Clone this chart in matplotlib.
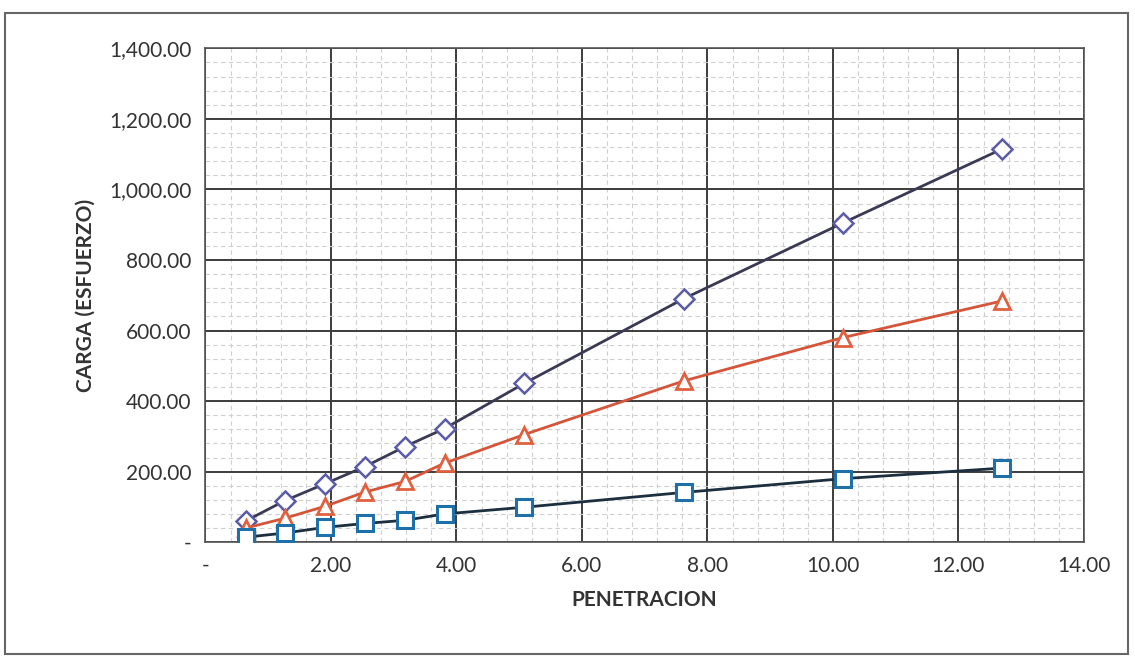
import matplotlib
matplotlib.use("Agg")
import matplotlib.pyplot as plt
from matplotlib.ticker import FuncFormatter, MultipleLocator
from matplotlib.patches import Rectangle

# penetracion (mm) and carga readings for the three specimens
penetracion = [0.64, 1.27, 1.91, 2.54, 3.18, 3.81, 5.08, 7.62, 10.16, 12.70]
carga_rombo = [60, 118, 166, 214, 271, 322, 450, 690, 905, 1115]
carga_triangulo = [40, 68, 102, 142, 172, 224, 305, 457, 580, 684]
carga_cuadrado = [14, 26, 42, 53, 62, 80, 99, 141, 180, 210]

plt.rcParams["font.family"] = ["Lato", "DejaVu Sans"]


def fmt_num(v, pos=None):
    if abs(v) < 1e-9:
        return "-"
    return f"{v:,.2f}"


fig = plt.figure(figsize=(11.35, 6.71), dpi=100)
ax = fig.add_axes([0.181, 0.192, 0.774, 0.736])

ax.plot(penetracion, carga_rombo, color="#3a3a55", lw=2.0, marker="D",
        markersize=10, markerfacecolor="white", markeredgecolor="#5b5ba8",
        markeredgewidth=1.8, zorder=3)
ax.plot(penetracion, carga_triangulo, color="#d4553a", lw=2.0, marker="^",
        markersize=12, markerfacecolor="white", markeredgecolor="#e0603f",
        markeredgewidth=2.0, zorder=3)
ax.plot(penetracion, carga_cuadrado, color="#1d2f3e", lw=2.0, marker="s",
        markersize=12, markerfacecolor="white", markeredgecolor="#1f6fa8",
        markeredgewidth=2.2, zorder=3)

ax.set_xlim(0, 14)
ax.set_ylim(0, 1400)
ax.xaxis.set_major_locator(MultipleLocator(2))
ax.xaxis.set_minor_locator(MultipleLocator(0.4))
ax.yaxis.set_major_locator(MultipleLocator(200))
ax.yaxis.set_minor_locator(MultipleLocator(40))
ax.xaxis.set_major_formatter(FuncFormatter(fmt_num))
ax.yaxis.set_major_formatter(FuncFormatter(fmt_num))

ax.grid(True, which="major", color="#3c3c3c", lw=1.4, zorder=1)
ax.grid(True, which="minor", color="#cfcfcf", lw=0.8, ls=(0, (4, 3)), zorder=0)
ax.tick_params(which="both", length=0, labelsize=15, colors="#333333", pad=10)
for s in ax.spines.values():
    s.set_color("#555555")
    s.set_linewidth(1.2)

ax.set_xlabel("PENETRACION", fontsize=15, fontweight="bold", color="#333333", labelpad=10)
ax.set_ylabel("CARGA (ESFUERZO)", fontsize=15, fontweight="bold", color="#333333", labelpad=10)

# chart border like the Excel frame
fig.patches.append(Rectangle((0.004, 0.025), 0.99, 0.955, transform=fig.transFigure,
                             fill=False, edgecolor="#666666", lw=1.5))

fig.savefig("out.png", dpi=100, facecolor="white")
